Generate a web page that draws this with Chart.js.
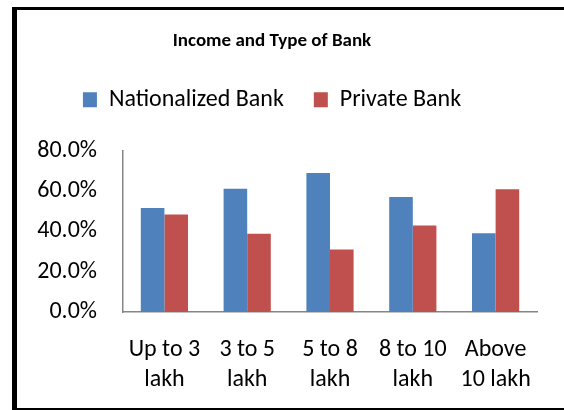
<!DOCTYPE html>
<html>
<head>
<meta charset="utf-8">
<script src="https://cdn.jsdelivr.net/npm/chart.js@4/dist/chart.umd.min.js"></script>
<style>
    html, body { margin: 0; padding: 0; background: #fff; }
    body { width: 564px; height: 410px; position: relative; overflow: hidden; }
    /* frame around the chart, open on the right */
    .frame {
        position: absolute;
        left: 12px; top: 7px;
        width: 600px; height: 398px;
        border-left: 5px solid #000;
        border-top: 3px solid #000;
        border-bottom: 2px solid #000;
    }
    #wrap { position: absolute; left: 0; top: 0; width: 564px; height: 418px; }
</style>
</head>
<body>
<div class="frame"></div>
<div id="wrap"><canvas id="bankChart"></canvas></div>
<script>
    // Share of respondents by income group and bank type
    const incomeGroups = [
        ['Up to 3', 'lakh'],
        ['3 to 5', 'lakh'],
        ['5 to 8', 'lakh'],
        ['8 to 10', 'lakh'],
        ['Above', '10 lakh']
    ];
    const nationalized = [51.6, 61.2, 69.0, 57.1, 39.1];
    const privateBank = [48.4, 38.8, 31.0, 42.9, 60.9];
    const yTicks = [0, 20, 40, 60, 80];

    const fontFamily = 'Carlito, Calibri, "Open Sans", sans-serif';

    // extra room under the legend before the plot starts
    const legendGap = {
        id: 'legendGap',
        beforeInit(chart) {
            const fit = chart.legend.fit;
            chart.legend.fit = function() {
                fit.bind(chart.legend)();
                this.height += 29;
            };
        }
    };

    new Chart(document.getElementById('bankChart'), {
        type: 'bar',
        data: {
            labels: incomeGroups,
            datasets: [{
                label: 'Nationalized Bank',
                data: nationalized,
                backgroundColor: '#4F81BD',
                categoryPercentage: 0.57,
                barPercentage: 1.0
            }, {
                label: 'Private Bank',
                data: privateBank,
                backgroundColor: '#C0504D',
                categoryPercentage: 0.57,
                barPercentage: 1.0
            }]
        },
        options: {
            responsive: true,
            maintainAspectRatio: false,
            animation: false,
            layout: {
                padding: { left: 7, right: 27, top: 0, bottom: 0 }
            },
            plugins: {
                title: {
                    display: true,
                    text: 'Income and Type of Bank',
                    color: '#000',
                    font: { family: fontFamily, size: 19, weight: 'bold' },
                    padding: { top: 30, bottom: 5 }
                },
                legend: {
                    display: true,
                    labels: {
                        color: '#000',
                        font: { family: fontFamily, size: 24 },
                        boxWidth: 14,
                        boxHeight: 15,
                        padding: 30
                    }
                },
                tooltip: { enabled: false }
            },
            scales: {
                y: {
                    min: 0,
                    max: 80,
                    afterBuildTicks: scale => {
                        scale.ticks = yTicks.map(v => ({ value: v }));
                    },
                    afterFit: scale => {
                        scale.width = 116;
                    },
                    ticks: {
                        color: '#000',
                        font: { family: fontFamily, size: 24 },
                        padding: 26,
                        callback: v => v.toFixed(1) + '%'
                    },
                    grid: { display: false, drawTicks: false },
                    border: { display: true, color: '#868686', width: 1.5 }
                },
                x: {
                    ticks: {
                        color: '#000',
                        font: { family: fontFamily, size: 24, lineHeight: 1.25 },
                        padding: 23,
                        maxRotation: 0,
                        autoSkip: false
                    },
                    grid: { display: false, drawTicks: false },
                    border: { display: true, color: '#868686', width: 1.5 }
                }
            }
        },
        plugins: [legendGap]
    });
</script>
</body>
</html>
